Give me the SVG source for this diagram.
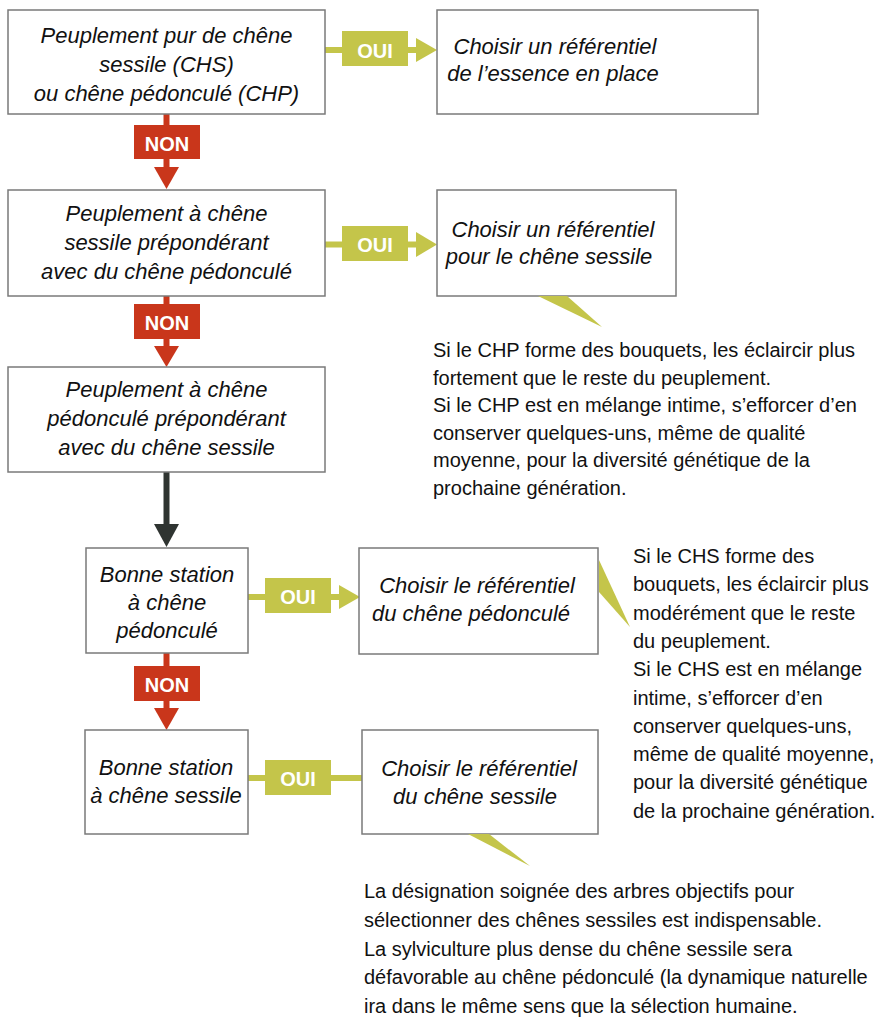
<svg xmlns="http://www.w3.org/2000/svg" width="889" height="1018" viewBox="0 0 889 1018">
<style>
.box{fill:#ffffff;stroke:#7a7a7a;stroke-width:1.5}
.bt{font-family:"Liberation Sans",Arial,sans-serif;font-style:italic;font-size:22px;fill:#111;text-anchor:middle}
.nt{font-family:"Liberation Sans",Arial,sans-serif;font-size:20px;fill:#111}
.lbl{font-family:"Liberation Sans",Arial,sans-serif;font-weight:bold;font-size:20px;fill:#ffffff;text-anchor:middle}
.oui{fill:#c4c54a}
.non{fill:#c9361b}
.ol{stroke:#c4c54a;stroke-width:6;fill:none}
.rl{stroke:#c9361b;stroke-width:6;fill:none}
.dl{stroke:#2f3431;stroke-width:6;fill:none}
.dk{fill:#2f3431}
</style>
<rect width="889" height="1018" fill="#ffffff"/>

<g id="connectors">
  <!-- OUI 1 -->
  <line class="ol" x1="325" y1="50" x2="417" y2="50"/>
  <polygon class="oui" points="416,38 437,50 416,62"/>
  <rect class="oui" x="342" y="31" width="66" height="35"/>
  <text class="lbl" x="375" y="57.5">OUI</text>
  <!-- NON 1 -->
  <line class="rl" x1="166.5" y1="114" x2="166.5" y2="168"/>
  <polygon class="non" points="154,167 179,167 166.5,189"/>
  <rect class="non" x="134" y="125" width="66" height="34"/>
  <text class="lbl" x="167" y="150.5">NON</text>
  <!-- OUI 2 -->
  <line class="ol" x1="325" y1="244.5" x2="417" y2="244.5"/>
  <polygon class="oui" points="416,232 437,244.5 416,257"/>
  <rect class="oui" x="342" y="226" width="66" height="35"/>
  <text class="lbl" x="375" y="252">OUI</text>
  <!-- NON 2 -->
  <line class="rl" x1="166.5" y1="296" x2="166.5" y2="347"/>
  <polygon class="non" points="154,346 179,346 166.5,367"/>
  <rect class="non" x="134" y="304" width="66" height="35"/>
  <text class="lbl" x="167" y="330">NON</text>
  <!-- dark arrow -->
  <line class="dl" x1="166.5" y1="472" x2="166.5" y2="525"/>
  <polygon class="dk" points="154,524 179,524 166.5,547"/>
  <!-- OUI 4 -->
  <line class="ol" x1="248" y1="597" x2="340" y2="597"/>
  <polygon class="oui" points="339,585 360,597 339,609"/>
  <rect class="oui" x="265" y="578" width="66" height="35"/>
  <text class="lbl" x="298" y="604">OUI</text>
  <!-- NON 3 -->
  <line class="rl" x1="166.5" y1="653" x2="166.5" y2="709"/>
  <polygon class="non" points="154,708 179,708 166.5,730"/>
  <rect class="non" x="134" y="666" width="66" height="35"/>
  <text class="lbl" x="167" y="692">NON</text>
  <!-- OUI 5 -->
  <line class="ol" x1="248" y1="778" x2="362" y2="778"/>
  <rect class="oui" x="265" y="760" width="66" height="35"/>
  <text class="lbl" x="298" y="786">OUI</text>
</g>

<g id="q1">
  <rect class="box" x="8" y="10" width="317" height="104"/>
  <text class="bt" x="166.5" y="43">Peuplement pur de chêne</text>
  <text class="bt" x="166.5" y="72">sessile (CHS)</text>
  <text class="bt" x="166.5" y="101">ou chêne pédonculé (CHP)</text>
</g>
<g id="r1">
  <rect class="box" x="437" y="10" width="321" height="104"/>
  <text class="bt" x="555" y="54">Choisir un référentiel</text>
  <text class="bt" x="553" y="81">de l’essence en place</text>
</g>
<g id="q2">
  <rect class="box" x="8" y="190" width="317" height="106"/>
  <text class="bt" x="166.5" y="221">Peuplement à chêne</text>
  <text class="bt" x="166.5" y="250">sessile prépondérant</text>
  <text class="bt" x="166.5" y="279">avec du chêne pédonculé</text>
</g>
<g id="r2">
  <rect class="box" x="437" y="190" width="239" height="106"/>
  <text class="bt" x="553" y="237">Choisir un référentiel</text>
  <text class="bt" x="549" y="264">pour le chêne sessile</text>
</g>
<g id="note-chp">
  <polygon class="oui" points="538,296 567,296 602,327"/>
  <text class="nt" x="433" y="357">Si le CHP forme des bouquets, les éclaircir plus</text>
  <text class="nt" x="433" y="384.6">fortement que le reste du peuplement.</text>
  <text class="nt" x="433" y="412.2">Si le CHP est en mélange intime, s’efforcer d’en</text>
  <text class="nt" x="433" y="439.8">conserver quelques-uns, même de qualité</text>
  <text class="nt" x="433" y="467.4">moyenne, pour la diversité génétique de la</text>
  <text class="nt" x="433" y="495">prochaine génération.</text>
</g>
<g id="q3">
  <rect class="box" x="8" y="367" width="317" height="105"/>
  <text class="bt" x="166.5" y="397">Peuplement à chêne</text>
  <text class="bt" x="166.5" y="426">pédonculé prépondérant</text>
  <text class="bt" x="166.5" y="455">avec du chêne sessile</text>
</g>
<g id="q4">
  <rect class="box" x="86" y="548" width="162" height="105"/>
  <text class="bt" x="167" y="582">Bonne station</text>
  <text class="bt" x="167" y="610">à chêne</text>
  <text class="bt" x="167" y="638">pédonculé</text>
</g>
<g id="r4">
  <rect class="box" x="359" y="548" width="239" height="106"/>
  <text class="bt" x="477" y="593">Choisir le référentiel</text>
  <text class="bt" x="471" y="621">du chêne pédonculé</text>
</g>
<g id="note-chs">
  <polygon class="oui" points="599,560 599,592 630,627"/>
  <text class="nt" x="633" y="563">Si le CHS forme des</text>
  <text class="nt" x="633" y="591.3">bouquets, les éclaircir plus</text>
  <text class="nt" x="633" y="619.6">modérément que le reste</text>
  <text class="nt" x="633" y="647.9">du peuplement.</text>
  <text class="nt" x="633" y="676.2">Si le CHS est en mélange</text>
  <text class="nt" x="633" y="704.5">intime, s’efforcer d’en</text>
  <text class="nt" x="633" y="732.8">conserver quelques-uns,</text>
  <text class="nt" x="633" y="761.1">même de qualité moyenne,</text>
  <text class="nt" x="633" y="789.4">pour la diversité génétique</text>
  <text class="nt" x="633" y="817.7">de la prochaine génération.</text>
</g>
<g id="q5">
  <rect class="box" x="85" y="730" width="163" height="104"/>
  <text class="bt" x="166" y="775">Bonne station</text>
  <text class="bt" x="166" y="803">à chêne sessile</text>
</g>
<g id="r5">
  <rect class="box" x="362" y="730" width="236" height="104"/>
  <text class="bt" x="479" y="776">Choisir le référentiel</text>
  <text class="bt" x="475" y="804">du chêne sessile</text>
</g>
<g id="note-sessile">
  <polygon class="oui" points="468,834 489,834 530,866"/>
  <text class="nt" x="364" y="898">La désignation soignée des arbres objectifs pour</text>
  <text class="nt" x="364" y="926.8">sélectionner des chênes sessiles est indispensable.</text>
  <text class="nt" x="364" y="955.6">La sylviculture plus dense du chêne sessile sera</text>
  <text class="nt" x="364" y="984.4">défavorable au chêne pédonculé (la dynamique naturelle</text>
  <text class="nt" x="364" y="1013">ira dans le même sens que la sélection humaine.</text>
</g>
</svg>
